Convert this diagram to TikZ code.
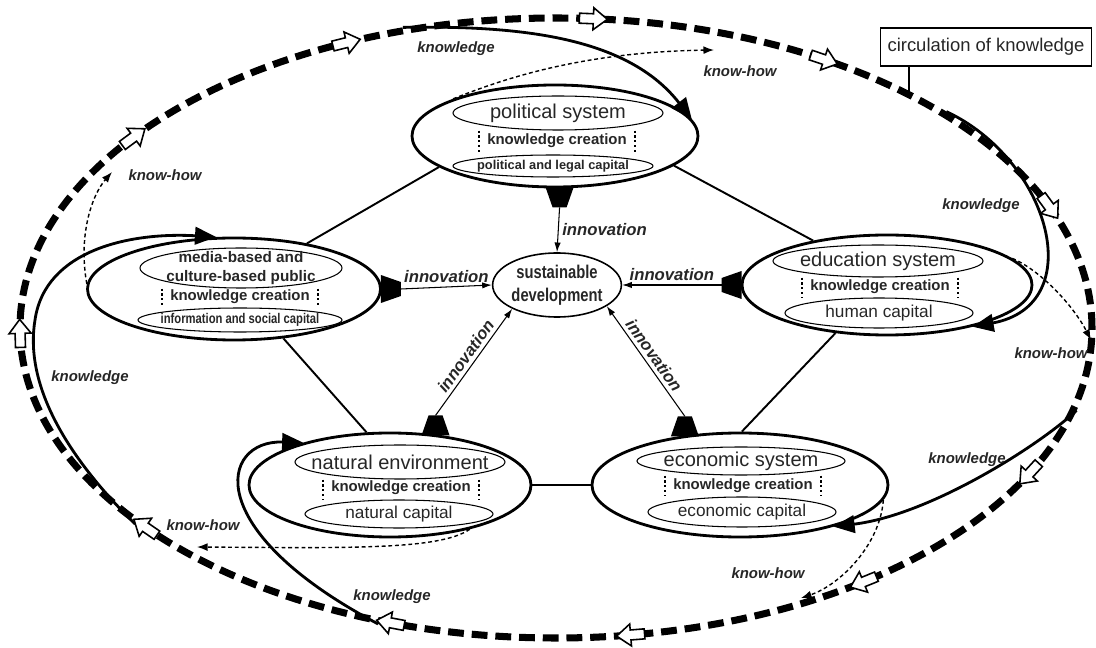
\documentclass[tikz,border=0pt]{standalone}
\usepackage{fontspec}
\setmainfont{Liberation Sans}
\newfontfamily\narrowsf{Liberation Sans}[FakeStretch=0.8]
\usetikzlibrary{shapes.geometric,arrows.meta}

\tikzset{
  sysell/.style={ellipse, draw, line width=1.6pt, inner sep=0pt},
  inell/.style 2 args={ellipse, draw, line width=0.6pt, inner sep=-15pt,
    minimum width=#1*0.02cm, minimum height=#2*0.02cm, text=black!85},
  kcreate/.style={inner sep=1pt, minimum width=156*0.02cm,
    font=\bfseries\fontsize{8.5}{10}\selectfont, text=black!85},
  titlefont/.style={font=\fontsize{11.4}{13}\selectfont},
  capfont/.style={font=\fontsize{9.8}{11}\selectfont},
  kdots/.style={line width=1.2pt, dash pattern=on 1.2pt off 1.6pt},
  tieline/.style={line width=1.1pt},
  innov/.style={line width=0.6pt, -{Latex[length=5.5pt,width=3.6pt]}},
  knowarr/.style={line width=1.6pt, -{Triangle[length=12pt,width=10pt]}},
  howarr/.style={line width=0.8pt, dash pattern=on 2.2pt off 1.6pt, -{Latex[length=6pt,width=4.5pt]}},
  lbl/.style={font=\bfseries\itshape\fontsize{8.5}{10}\selectfont, text=black!85},
  innlbl/.style={font=\bfseries\itshape\fontsize{9.5}{11}\selectfont, text=black!85, inner sep=2pt},
  plug/.pic={\fill (-14,1) -- (14,1) -- (7,-19) -- (-7,-19) -- cycle;
    \coordinate (-tip) at (0,-19);},
  hollow/.pic={\draw[fill=white, line width=0.9pt, line join=miter]
    (-14,-5) -- (0,-5) -- (0,-11) -- (14,0) -- (0,11) -- (0,5) -- (-14,5) -- cycle;}
}

\begin{document}
\begin{tikzpicture}[x=0.02cm, y=0.02cm]
  \useasboundingbox (0,0) rectangle (1096,-648);

  % Circulation of knowledge
  \node[ellipse, draw, line width=4pt, dash pattern=on 9pt off 4.5pt, inner sep=0pt,
        minimum width=1072*0.02cm, minimum height=620*0.02cm] (circ) at (556,-328) {};
  \node[draw, line width=0.8pt, minimum width=211*0.02cm, minimum height=38*0.02cm,
        font=\fontsize{10.5}{12}\selectfont, text=black!85] (circbox) at (986,-47) {circulation of knowledge};
  \coordinate (circpin) at (909,-95);
  \draw[line width=0.8pt] (circpin |- circbox.south) -- (circpin);

  % Political system
  \node[sysell, minimum width=286*0.02cm, minimum height=102*0.02cm] (polit) at (555,-136) {};
  \node[inell={210}{34}, titlefont] (politT) at (558,-113) {political system};
  \node[kcreate] (politK) at (557,-141) {knowledge creation};
  \node[inell={200}{22}, font=\bfseries\fontsize{7.3}{9}\selectfont] (politC) at (553,-166) {political and legal capital};
  \draw[kdots] (politK.west |- politT.south) -- (politK.west |- politC.north)
               (politK.east |- politT.south) -- (politK.east |- politC.north);

  % Media and culture
  \node[sysell, minimum width=293*0.02cm, minimum height=102*0.02cm] (media) at (234,-289) {};
  \node[inell={202}{40}, align=center, font=\bfseries\fontsize{8.7}{10.8}\selectfont] (mediaT) at (241,-268)
    {media-based and\\culture-based public};
  \node[kcreate] (mediaK) at (240,-297) {knowledge creation};
  \node[inell={204}{24}, font=\narrowsf\bfseries\fontsize{8}{9}\selectfont] (mediaC) at (240,-320) {information and social capital};
  \draw[kdots] (mediaK.west |- mediaT.south) -- (mediaK.west |- mediaC.north)
               (mediaK.east |- mediaT.south) -- (mediaK.east |- mediaC.north);

  % Education system
  \node[sysell, minimum width=290*0.02cm, minimum height=100*0.02cm] (educ) at (887,-285) {};
  \node[inell={210}{32}, titlefont] (educT) at (878,-261) {education system};
  \node[kcreate] (educK) at (880,-287) {knowledge creation};
  \node[inell={188}{30}, capfont] (educC) at (879,-313) {human capital};
  \draw[kdots] (educK.west |- educT.south) -- (educK.west |- educC.north)
               (educK.east |- educT.south) -- (educK.east |- educC.north);

  % Natural environment
  \node[sysell, minimum width=282*0.02cm, minimum height=104*0.02cm] (natur) at (390,-485) {};
  \node[inell={210}{34}, titlefont] (naturT) at (400,-462) {natural environment};
  \node[kcreate] (naturK) at (401,-488) {knowledge creation};
  \node[inell={188}{28}, capfont] (naturC) at (399,-514) {natural capital};
  \draw[kdots] (naturK.west |- naturT.south) -- (naturK.west |- naturC.north)
               (naturK.east |- naturT.south) -- (naturK.east |- naturC.north);

  % Economic system
  \node[sysell, minimum width=296*0.02cm, minimum height=104*0.02cm] (econ) at (740,-485) {};
  \node[inell={208}{28}, titlefont] (econT) at (741,-461) {economic system};
  \node[kcreate] (econK) at (743,-486) {knowledge creation};
  \node[inell={188}{30}, capfont] (econC) at (742,-512) {economic capital};
  \draw[kdots] (econK.west |- econT.south) -- (econK.west |- econC.north)
               (econK.east |- econT.south) -- (econK.east |- econC.north);

  % Sustainable development
  \node[ellipse, draw, line width=0.9pt, inner sep=0pt, minimum width=124*0.02cm, minimum height=64*0.02cm,
        align=center, font=\narrowsf\bfseries\fontsize{10.5}{13}\selectfont, text=black!85] (sust) at (557,-285)
    {sustainable\\development};

  % Ties between the systems
  \draw[tieline] (polit.195) -- (media.32);
  \draw[tieline] (polit.346) -- (educ.149);
  \draw[tieline] (media.315) -- (natur.114);
  \draw[tieline] (natur.east) -- (econ.west);
  \draw[tieline] (econ.88) -- (educ.223);

  % Innovation outlets
  \pic[rotate=0] (politPlug) at (polit.275) {plug};
  \pic[rotate=90] (mediaPlug) at (media.east) {plug};
  \pic[rotate=-90] (educPlug) at (educ.west) {plug};
  \pic[rotate=180] (naturPlug) at (natur.48) {plug};
  \pic[rotate=180] (econPlug) at (econ.138) {plug};

  \draw[innov] (politPlug-tip) -- (sust.north) node[midway, right, innlbl] {innovation};
  \draw[innov] (mediaPlug-tip) -- (sust.west) node[midway, above, innlbl] {innovation};
  \draw[innov] (educPlug-tip) -- (sust.east) node[midway, above, innlbl] {innovation};
  \draw[innov] (naturPlug-tip) -- (sust.208) node[midway, sloped, above, innlbl] {innovation};
  \draw[innov] (econPlug-tip) -- (sust.337) node[midway, sloped, above, innlbl] {innovation};

  % Knowledge
  \draw[knowarr] (circ.117) .. controls (530,-25) and (630,-40) .. (polit.7);
  \draw[knowarr] (circ.29) .. controls (1050,-160) and (1090,-305) .. (educ.334);
  \draw[knowarr] (circ.351) .. controls (1040,-445) and (930,-515) .. (econ.336);
  \draw[knowarr] (circ.239) .. controls (200,-530) and (220,-440) .. (natur.154);
  \draw[knowarr] (circ.205) .. controls (60,-450) and (25,-380) .. (35,-320)
                 .. controls (45,-250) and (130,-232) .. (media.109);
  \node[lbl] (kA) at (456,-49) {knowledge};
  \node[lbl] (kB) at (981,-206) {knowledge};
  \node[lbl] (kC) at (967,-460) {knowledge};
  \node[lbl] (kD) at (392,-597) {knowledge};
  \node[lbl] (kE) at (90,-378) {knowledge};

  % Know-how
  \coordinate (howA) at (714,-50);
  \coordinate (howB) at (1091,-340);
  \coordinate (howC) at (801,-598);
  \coordinate (howD) at (197,-547);
  \coordinate (howE) at (112,-172);
  \draw[howarr] (polit.160) .. controls (500,-80) and (580,-52) .. (howA);
  \draw[howarr] (educ.12) .. controls (1040,-270) and (1073,-305) .. (howB);
  \draw[howarr] (econ.354) .. controls (880,-545) and (840,-585) .. (howC);
  \draw[howarr] (natur.331) .. controls (440,-550) and (350,-548) .. (howD);
  \draw[howarr] (media.178) .. controls (78,-235) and (92,-195) .. (howE);
  \node[lbl] (hA) at (740,-71) {know-how};
  \node[lbl] (hB) at (1051,-353) {know-how};
  \node[lbl] (hC) at (768,-573) {know-how};
  \node[lbl] (hD) at (203,-525) {know-how};
  \node[lbl] (hE) at (165,-175) {know-how};

  % Circulation arrows
  \foreach \t in {181,142,113,86,60,23,-28,-55,-82,-108,-140}
    \pic[rotate={atan2(-310*cos(\t),536*sin(\t))}] at ({556+536*cos(\t)},{-328+310*sin(\t)}) {hollow};
\end{tikzpicture}
\end{document}
